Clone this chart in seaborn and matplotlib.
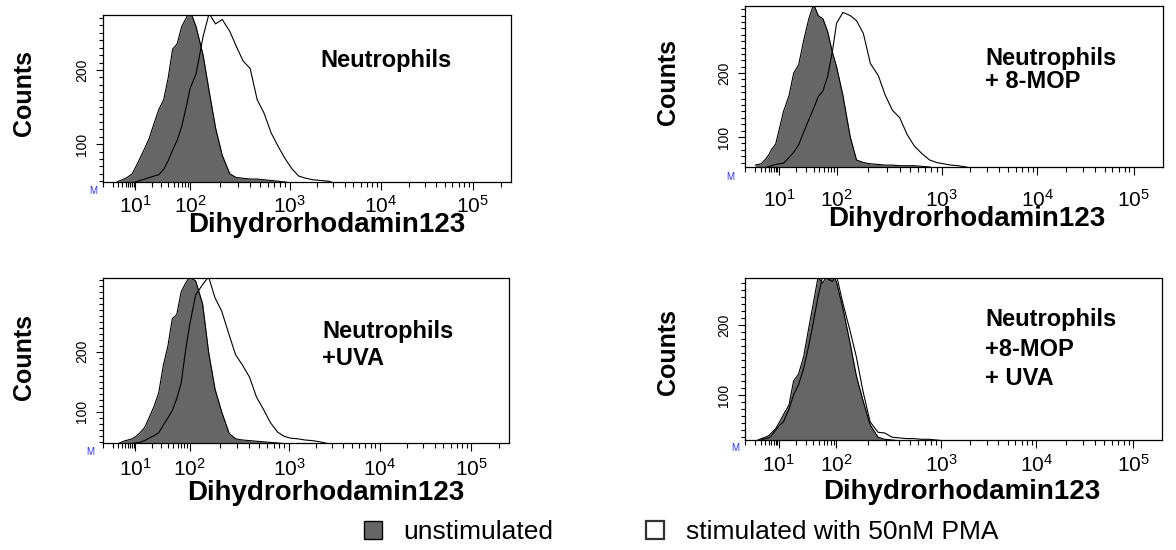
import numpy as np
import pandas as pd
import matplotlib
matplotlib.use("Agg")
import matplotlib.pyplot as plt
import seaborn as sns
from matplotlib.patches import Patch
from matplotlib.ticker import FixedLocator, FixedFormatter, MultipleLocator

# ========= 1) DATA (read off the histograms) =========
fluorescence = [2, 3, 4, 5, 6, 8, 10, 12, 15, 18, 22, 27, 33, 40, 48, 58, 70, 85, 100, 115,
                135, 155, 180, 210, 250, 290, 340, 400, 470, 550, 650, 770, 900, 1050, 1250,
                1500, 1800, 2200, 2700, 3300]

unstim_neutro = [45, 50, 52, 54, 56, 60, 68, 80, 95, 108, 128, 147, 160, 190, 228, 235, 258, 270, 280, 258,
                 220, 172, 122, 85, 60, 55, 54, 53, 53, 52, 51, 50, 49, 47, 45, 44, 43, 42, 41, 40]
stim_neutro = [40, 42, 43, 44, 45, 47, 49, 51, 53, 55, 57, 59, 66, 78, 92, 105, 123, 150, 175, 195,
               245, 276, 262, 268, 252, 232, 212, 202, 160, 142, 115, 96, 80, 67, 57, 54, 52, 51, 50, 46]

unstim_mop = [56, 58, 65, 72, 80, 89, 110, 140, 165, 200, 213, 252, 285, 308, 290, 285, 265, 232, 210, 165,
              100, 64, 60, 58, 57, 56, 56, 55, 55, 55, 54, 53, 50, 48, 46, 45, 44, 43, 42, 41]
stim_mop = [45, 48, 51, 54, 55, 57, 58, 59, 68, 76, 88, 108, 127, 145, 163, 172, 195, 235, 278, 295,
            290, 282, 262, 215, 196, 166, 142, 130, 104, 86, 74, 64, 60, 58, 56, 55, 53, 50, 47, 44]

unstim_uva = [44, 47, 50, 52, 53, 55, 58, 64, 74, 90, 108, 131, 178, 210, 255, 262, 300, 315, 325, 318,
              280, 200, 138, 100, 64, 55, 53, 52, 51, 50, 49, 48, 47, 46, 45, 44, 43, 42, 41, 40]
stim_uva = [40, 42, 43, 44, 45, 47, 48, 49, 52, 56, 60, 65, 78, 90, 102, 122, 148, 205, 245, 295,
            312, 325, 290, 268, 228, 195, 178, 158, 125, 105, 82, 66, 59, 56, 55, 53, 52, 50, 47, 44]

unstim_mop_uva = [34, 38, 40, 42, 46, 52, 60, 72, 86, 120, 130, 155, 195, 232, 268, 260, 272, 275, 262, 225,
                  175, 128, 92, 58, 40, 37, 36, 35, 34, 33, 32, 31, 30, 30, 29, 29, 28, 28, 27, 27]
stim_mop_uva = [33, 36, 38, 39, 42, 50, 56, 62, 80, 100, 115, 138, 170, 205, 240, 270, 266, 262, 272, 232,
                192, 155, 105, 62, 47, 46, 40, 39, 38, 38, 37, 37, 36, 35, 34, 33, 32, 31, 30, 30]

panel_titles = ["Neutrophils", "Neutrophils\n+ 8-MOP", "Neutrophils\n+UVA", "Neutrophils\n+8-MOP\n+ UVA"]
unstim_series = [unstim_neutro, unstim_mop, unstim_uva, unstim_mop_uva]
stim_series = [stim_neutro, stim_mop, stim_uva, stim_mop_uva]
count_limits = [(49, 274), (53, 305), (48, 323), (36, 267)]
x_upper = [2.6e5, 2.0e5, 2.6e5, 2.0e5]
decade_labels = ["10$^{1}$", "10$^{2}$", "10$^{3}$", "10$^{4}$", "10$^{5}$"]
legend_labels = ["unstimulated", "stimulated with 50nM PMA"]

# ========= 2) LAYOUT (pixels of a 1176x550 canvas) =========
W, H = 1176, 550
frames = [(103, 15, 511, 182), (745, 6, 1163, 167), (103, 278, 509, 443), (745, 278, 1162, 440)]
title_lines = [[(320, 67)], [(985, 65), (985, 88)], [(322, 338), (322, 365)],
               [(985, 326), (985, 356), (985, 385)]]
xlabel_pos = [(327, 232), (967, 226), (326, 500), (962, 499)]
ylabel_pos = [(24, 93), (668, 82), (24, 357), (668, 352)]
xtick_pad = [3, 10, 5, 4]
m_marks = [(93, 191), (730, 177), (90, 452), (735, 448)]

FILL = "#666666"

# biexponential-like display axis (compressed below 10^2, as on the cytometer)
anchor_log = [-6, 0, 1, 2, 3, 4, 5, 8]
anchor_pos = [-198, 0, 33, 89, 191, 284, 378, 660]


def fwd(v):
    v = np.asarray(v, dtype=float)
    with np.errstate(divide="ignore", invalid="ignore"):
        lg = np.log10(np.maximum(v, 1e-6))
    return np.interp(lg, anchor_log, anchor_pos)


def inv(p):
    return 10 ** np.interp(np.asarray(p, dtype=float), anchor_pos, anchor_log)


# ========= 3) PLOT =========
sns.set_style("ticks", {"axes.edgecolor": "black", "xtick.color": "black", "ytick.color": "black",
                        "text.color": "black", "axes.labelcolor": "black"})
plt.rcParams["font.family"] = ["Liberation Sans", "DejaVu Sans"]
plt.rcParams["mathtext.fontset"] = "custom"
plt.rcParams["mathtext.rm"] = "Liberation Sans"
plt.rcParams["mathtext.default"] = "regular"

fig = plt.figure(figsize=(W / 100, H / 100), dpi=100)

minor_x = [m * 10 ** k for k in range(0, 6) for m in range(1, 10)]

for i in range(4):
    x0, y0, x1, y1 = frames[i]
    ax = fig.add_axes([x0 / W, 1 - y1 / H, (x1 - x0) / W, (y1 - y0) / H])

    df = pd.DataFrame({
        "fluorescence": fluorescence * 2,
        "counts": unstim_series[i] + stim_series[i],
        "condition": ["unstimulated"] * len(fluorescence) + ["stimulated"] * len(fluorescence),
    })

    ax.fill_between(fluorescence, 0, unstim_series[i], color=FILL, lw=0, zorder=1)
    sns.lineplot(data=df[df.condition == "unstimulated"], x="fluorescence", y="counts",
                 color="black", lw=0.8, estimator=None, sort=False, ax=ax, zorder=2)
    sns.lineplot(data=df[df.condition == "stimulated"], x="fluorescence", y="counts",
                 color="black", lw=0.8, estimator=None, sort=False, ax=ax, zorder=3)

    ax.set_xscale("function", functions=(fwd, inv))
    ax.set_xlim(1, x_upper[i])
    ax.set_ylim(*count_limits[i])

    ax.xaxis.set_major_locator(FixedLocator([10, 100, 1e3, 1e4, 1e5]))
    ax.xaxis.set_major_formatter(FixedFormatter(decade_labels))
    ax.xaxis.set_minor_locator(FixedLocator([v for v in minor_x if v < x_upper[i]]))
    ax.yaxis.set_major_locator(FixedLocator([100, 200]))
    ax.yaxis.set_minor_locator(MultipleLocator(10))

    ax.tick_params(axis="x", which="major", length=6, width=0.8, labelsize=15, pad=xtick_pad[i])
    ax.tick_params(axis="x", which="minor", length=3.5, width=0.8)
    ax.tick_params(axis="y", which="major", length=5, width=0.8, labelsize=10, pad=5)
    ax.tick_params(axis="y", which="minor", length=3, width=0.8)
    for lab in ax.get_yticklabels():
        lab.set_rotation(90)
        lab.set_va("center")

    for s in ax.spines.values():
        s.set_linewidth(0.9)
        s.set_color("black")

    ax.set_xlabel("Dihydrorhodamin123", fontsize=20, fontweight="bold")
    ax.xaxis.set_label_coords((xlabel_pos[i][0] - x0) / (x1 - x0), (y1 - xlabel_pos[i][1]) / (y1 - y0))
    ax.xaxis.label.set_va("baseline")
    ax.set_ylabel("Counts", fontsize=18, fontweight="bold")
    ax.yaxis.set_label_coords((ylabel_pos[i][0] - x0) / (x1 - x0), (y1 - ylabel_pos[i][1]) / (y1 - y0))
    ax.yaxis.label.set_va("center")

    for line, (tx, ty) in zip(panel_titles[i].split("\n"), title_lines[i]):
        fig.text(tx / W, 1 - ty / H, line, fontsize=17, fontweight="bold", ha="left", va="baseline")

    fig.text(m_marks[i][0] / W, 1 - m_marks[i][1] / H, "M", fontsize=7, color="#2a2aff",
             ha="center", va="center")

handles = [Patch(facecolor=FILL, edgecolor="black", lw=1.0, label=legend_labels[0]),
           Patch(facecolor="white", edgecolor="#333333", lw=1.6, label=legend_labels[1])]
fig.legend(handles=handles, ncol=2, loc="center left", bbox_to_anchor=(364 / W, 1 - 532 / H),
           frameon=False, fontsize=19, handlelength=0.7, handleheight=0.7,
           handletextpad=0.8, columnspacing=3.5, borderpad=0, borderaxespad=0)

fig.savefig("out.png", dpi=100)
